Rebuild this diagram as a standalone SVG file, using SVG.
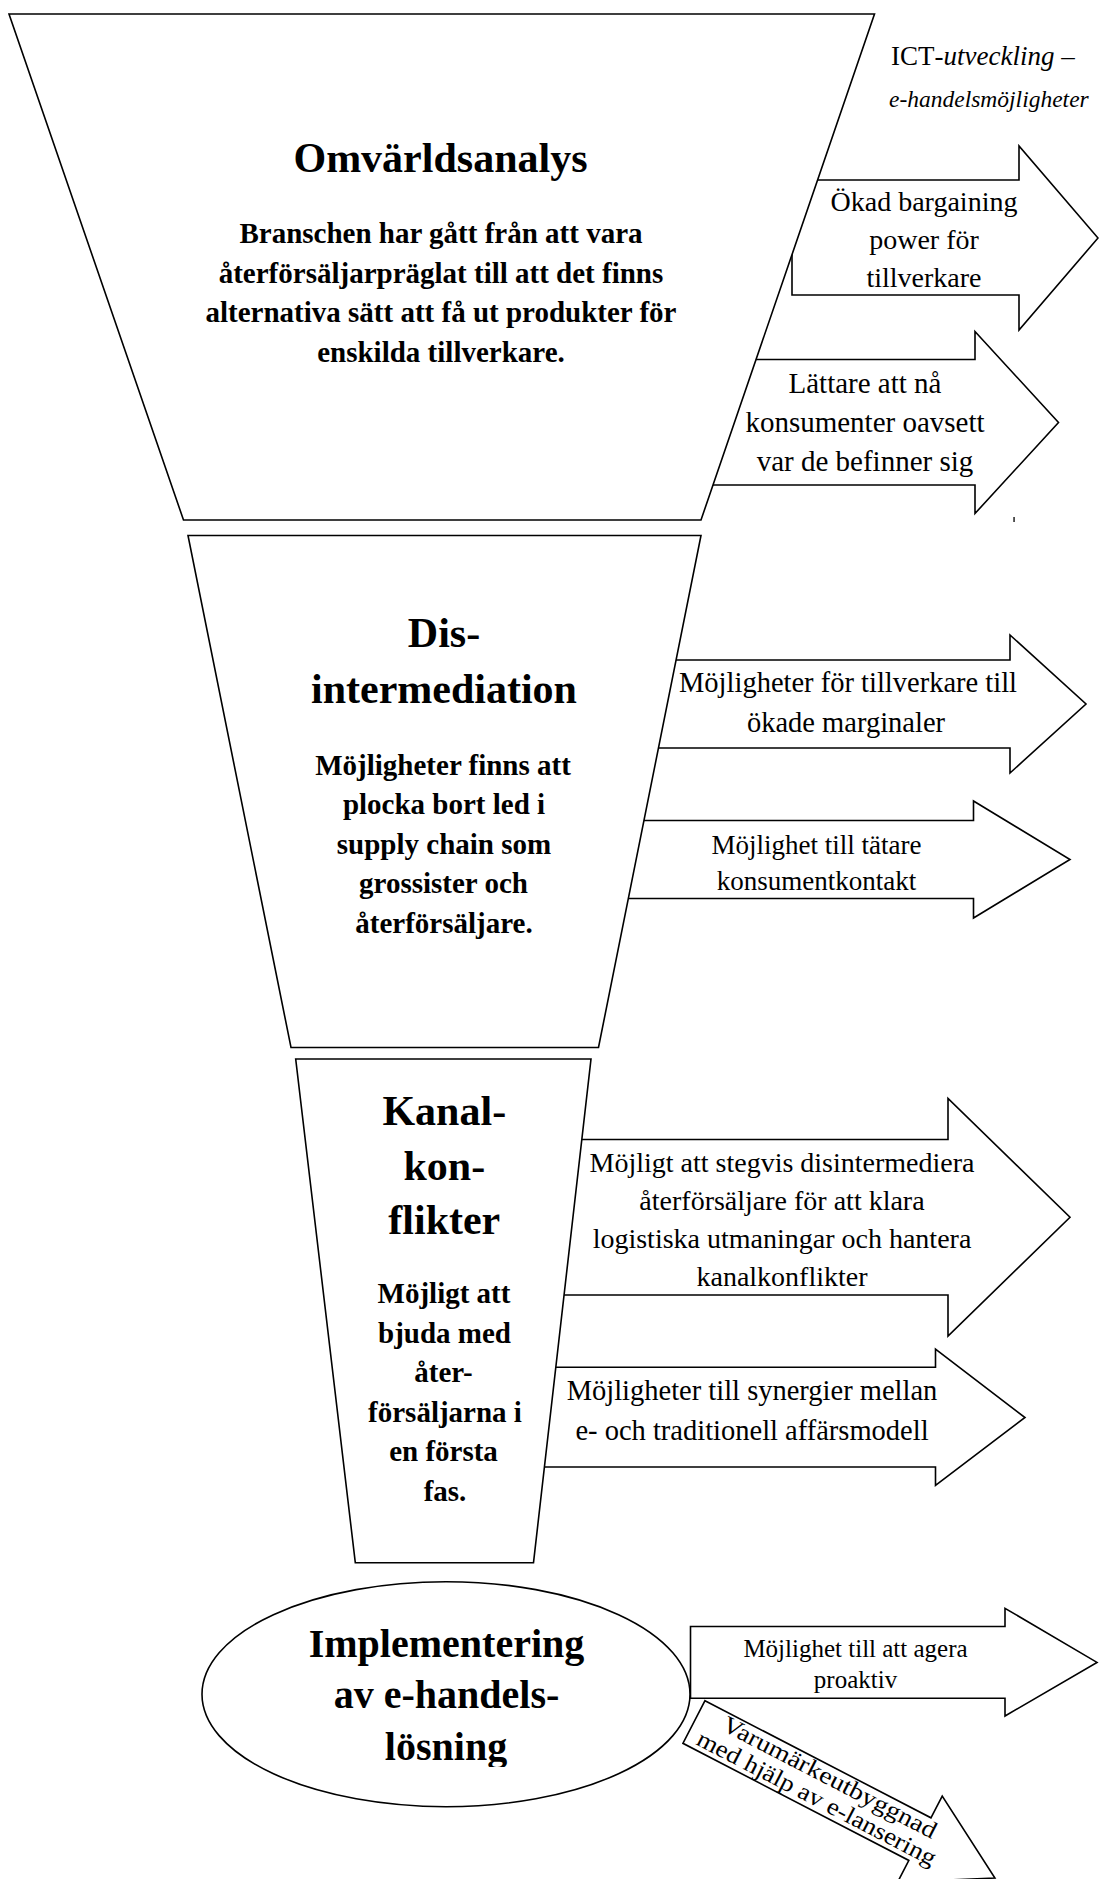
<svg xmlns="http://www.w3.org/2000/svg" width="1099" height="1879" viewBox="0 0 1099 1879">
<style>
.shape{fill:#fff;stroke:#000;stroke-width:1.6;stroke-linejoin:miter}
.title{font-family:"Liberation Serif",serif;font-weight:bold;font-size:42px;text-anchor:middle;fill:#000}
.body{font-family:"Liberation Serif",serif;font-weight:bold;font-size:29px;text-anchor:middle;fill:#000}
.lbl{font-family:"Liberation Serif",serif;font-size:28px;text-anchor:middle;fill:#000}
.ict{font-family:"Liberation Serif",serif;font-size:26px;font-style:italic;fill:#000}
</style>
<defs>
<clipPath id="ellclip"><rect x="0" y="0" width="1099" height="1767"/></clipPath>
</defs>
<rect x="0" y="0" width="1099" height="1879" fill="#fff"/>

<g id="connectors">
  <g id="arrow1">
    <polygon class="shape" points="792,180 1019,180 1019,146 1098,238 1019,330 1019,295 792,295"/>
    <text class="lbl" x="924" y="211">Ökad bargaining</text>
    <text class="lbl" x="924" y="249">power för</text>
    <text class="lbl" x="924" y="287">tillverkare</text>
  </g>
  <g id="arrow2">
    <polygon class="shape" points="700,359.5 975,359.5 975,331.5 1058.5,422.5 975,513.5 975,485 700,485"/>
    <text class="lbl" x="865" y="393" style="font-size:29px">Lättare att nå</text>
    <text class="lbl" x="865" y="432" style="font-size:29px">konsumenter oavsett</text>
    <text class="lbl" x="865" y="471" style="font-size:29px">var de befinner sig</text>
  </g>
  <g id="arrow3">
    <polygon class="shape" points="600,660 1010,660 1010,635 1086,704 1010,773 1010,748 600,748"/>
    <text class="lbl" x="848" y="691.5" style="font-size:28.5px">Möjligheter för tillverkare till</text>
    <text class="lbl" x="846" y="731.5" style="font-size:28.5px">ökade marginaler</text>
  </g>
  <g id="arrow4">
    <polygon class="shape" points="600,820.5 973.5,820.5 973.5,801 1070,859.5 973.5,918 973.5,898.5 600,898.5"/>
    <text class="lbl" x="816.5" y="853.5" style="font-size:27px">Möjlighet till tätare</text>
    <text class="lbl" x="816.5" y="890" style="font-size:27px">konsumentkontakt</text>
  </g>
  <g id="arrow5">
    <polygon class="shape" points="530,1139.5 948,1139.5 948,1098.5 1070,1217.3 948,1336 948,1295 530,1295"/>
    <text class="lbl" x="782" y="1171.5">Möjligt att stegvis disintermediera</text>
    <text class="lbl" x="782" y="1209.5">återförsäljare för att klara</text>
    <text class="lbl" x="782" y="1247.5">logistiska utmaningar och hantera</text>
    <text class="lbl" x="782" y="1285.5">kanalkonflikter</text>
  </g>
  <g id="arrow6">
    <polygon class="shape" points="520,1367.2 935.5,1367.2 935.5,1349.2 1025,1417.5 935.5,1485.5 935.5,1467 520,1467"/>
    <text class="lbl" x="752" y="1400" style="font-size:28.5px">Möjligheter till synergier mellan</text>
    <text class="lbl" x="752" y="1440" style="font-size:28.5px">e- och traditionell affärsmodell</text>
  </g>
  <g id="arrow7">
    <polygon class="shape" points="690.5,1626.5 1005,1626.5 1005,1608.3 1097,1662.4 1005,1716 1005,1698.3 690.5,1698.3"/>
    <text class="lbl" x="855.5" y="1656.5" style="font-size:25px">Möjlighet till att agera</text>
    <text class="lbl" x="855.5" y="1687.5" style="font-size:25px">proaktiv</text>
  </g>
  <g id="arrow8" transform="translate(705,1700.7) rotate(27.4)">
    <polygon class="shape" points="0,0 254.5,0 254.5,-24.5 339,24 254.5,72.5 254.5,48 0,48"/>
    <text class="lbl" x="146" y="18.5" style="font-size:24px" textLength="238" lengthAdjust="spacingAndGlyphs">Varumärkeutbyggnad</text>
    <text class="lbl" x="144" y="43" style="font-size:24px" textLength="266" lengthAdjust="spacingAndGlyphs">med hjälp av e-lansering</text>
  </g>
</g>

<g id="omvarldsanalys">
  <polygon class="shape" points="9,14 874.5,14 701,520 183.5,520"/>
  <text class="title" x="440.5" y="172">Omvärldsanalys</text>
  <text class="body" x="441" y="243">Branschen har gått från att vara</text>
  <text class="body" x="441" y="282.5">återförsäljarpräglat till att det finns</text>
  <text class="body" x="441" y="322">alternativa sätt att få ut produkter för</text>
  <text class="body" x="441" y="361.5">enskilda tillverkare.</text>
</g>

<g id="disintermediation">
  <polygon class="shape" points="188,535.5 701,535.5 598.5,1047.5 291,1047.5"/>
  <text class="title" x="444" y="647.3">Dis-</text>
  <text class="title" x="444" y="703.3">intermediation</text>
  <text class="body" x="443" y="774.5">Möjligheter finns att</text>
  <text class="body" x="444" y="814.1">plocka bort led i</text>
  <text class="body" x="444" y="853.7">supply chain som</text>
  <text class="body" x="443.5" y="893.3">grossister och</text>
  <text class="body" x="444" y="932.9">återförsäljare.</text>
</g>

<g id="kanalkonflikter">
  <polygon class="shape" points="295.7,1059 591,1059 533.5,1562.7 355.3,1562.7"/>
  <text class="title" x="444.3" y="1125">Kanal-</text>
  <text class="title" x="444.3" y="1180">kon-</text>
  <text class="title" x="444.3" y="1234">flikter</text>
  <text class="body" x="444" y="1303.4">Möjligt att</text>
  <text class="body" x="444.5" y="1342.9">bjuda med</text>
  <text class="body" x="443.5" y="1382.4">åter-</text>
  <text class="body" x="445" y="1421.9">försäljarna i</text>
  <text class="body" x="443.5" y="1461.4">en första</text>
  <text class="body" x="445" y="1500.9">fas.</text>
</g>

<g id="implementering">
  <ellipse class="shape" cx="446" cy="1694.2" rx="244" ry="112.5"/>
  <g clip-path="url(#ellclip)">
    <text class="title" x="446.5" y="1656.7" style="font-size:40px">Implementering</text>
    <text class="title" x="446.5" y="1708.3" style="font-size:40px">av e-handels-</text>
    <text class="title" x="446" y="1760" style="font-size:40px">lösning</text>
  </g>
</g>

<g id="ict-heading">
  <text class="ict" x="891" y="64.5" style="font-size:27px"><tspan style="font-style:normal">ICT</tspan>-utveckling –</text>
  <text class="ict" x="889" y="107" style="font-size:23.5px">e-handelsmöjligheter</text>
</g>

<rect id="stray-mark" x="1013.4" y="517" width="1.3" height="5" fill="#000"/>
</svg>
